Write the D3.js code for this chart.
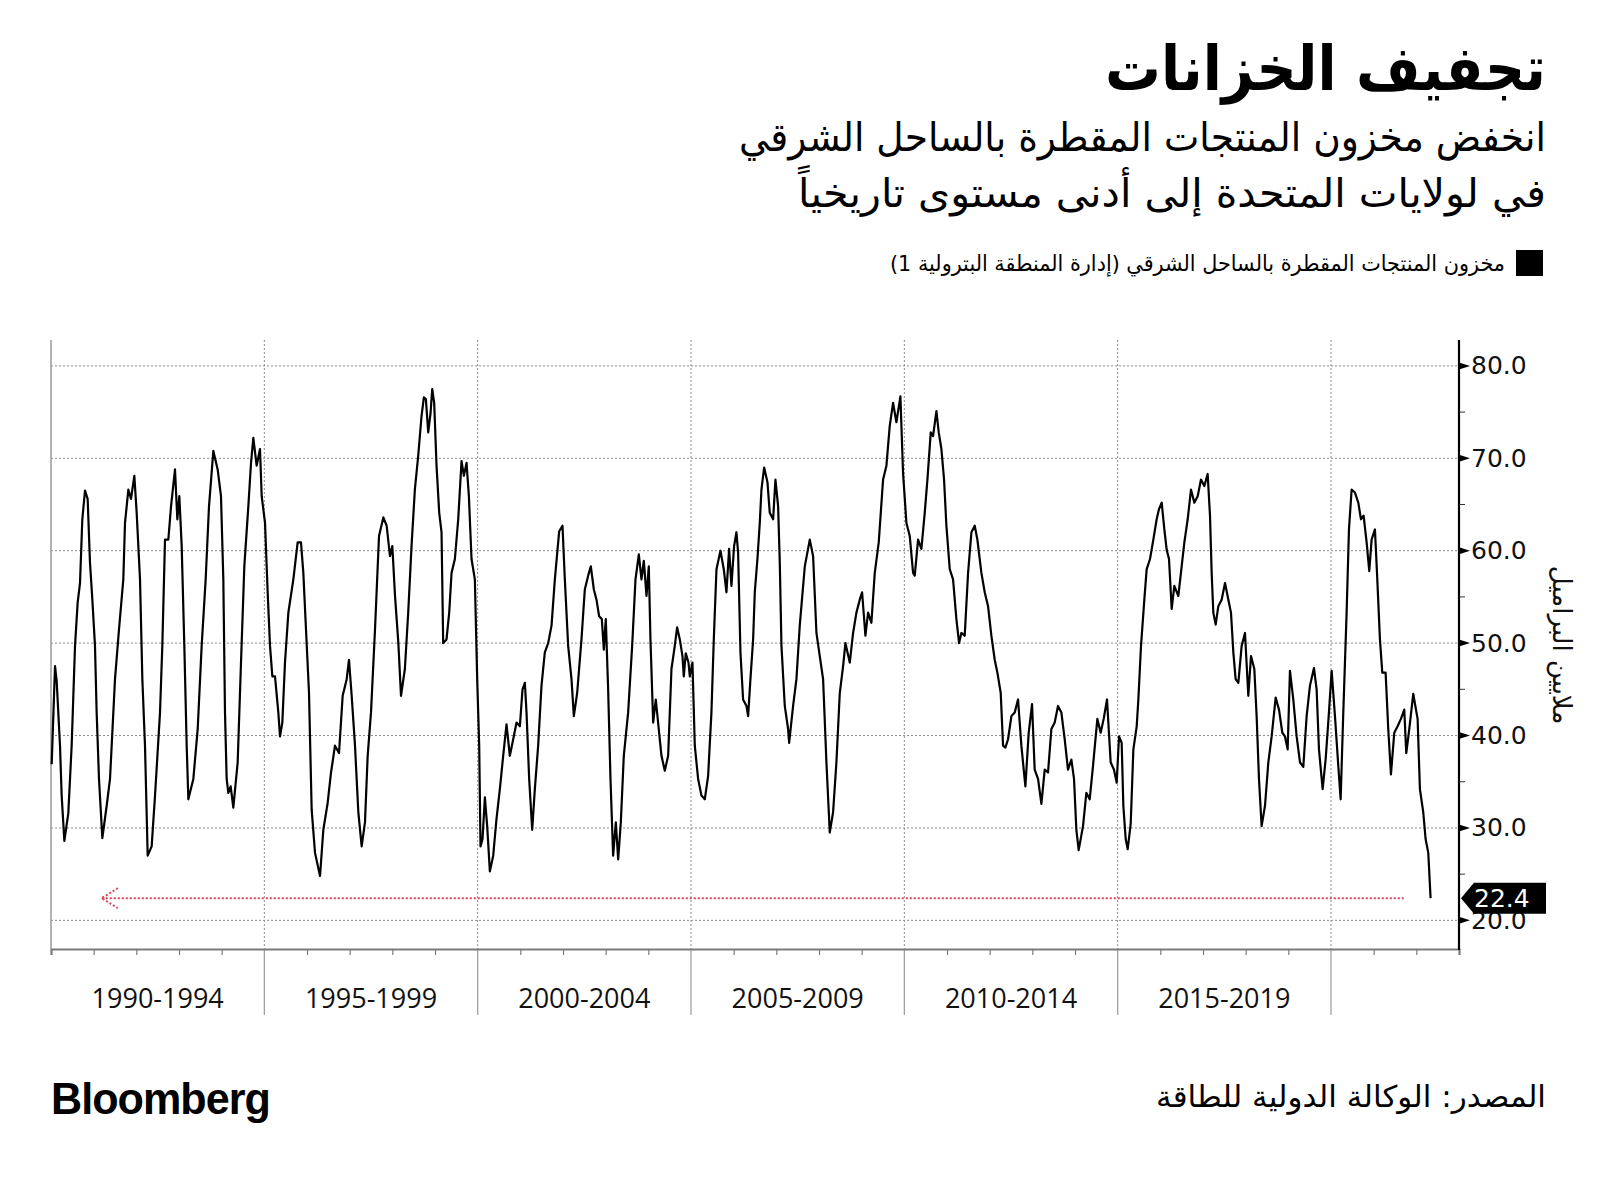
<!DOCTYPE html>
<html lang="ar">
<head>
<meta charset="utf-8">
<script src="https://cdn.jsdelivr.net/npm/d3@7"></script>
<style>
  html, body { margin: 0; padding: 0; background: #ffffff; }
  svg { display: block; }
</style>
</head>
<body>
<div id="chart"></div>
<script>
// ---------------- DATA ----------------
const titleText = "تجفيف الخزانات";
const subtitleLines = ["انخفض مخزون المنتجات المقطرة بالساحل الشرقي", "في لولايات المتحدة إلى أدنى مستوى تاريخياً"];
const legendLabel = "مخزون المنتجات المقطرة بالساحل الشرقي (إدارة المنطقة البترولية 1)";
const yAxisTitle = "ملايين البراميل";
const sourceText = "المصدر: الوكالة الدولية للطاقة";
const brandText = "Bloomberg";

const periodLabels = ["1990-1994", "1995-1999", "2000-2004", "2005-2009", "2010-2014", "2015-2019"];
const periodStarts = [1990, 1995, 2000, 2005, 2010, 2015];
const yTickValues = [20, 30, 40, 50, 60, 70, 80];
const yMinorTickValues = [25, 35, 45, 55, 65, 75];

// decimal year of each observation
const dates = [
1990.016,1990.094,1990.133,1990.211,1990.25,1990.313,1990.406,1990.484,1990.563,1990.625,1990.68,1990.734,1990.797,1990.859,1990.914,1990.969,
1991.031,1991.07,1991.125,1991.203,1991.305,1991.383,1991.5,1991.594,1991.695,1991.734,1991.813,1991.875,1991.953,
1992.008,1992.086,1992.141,1992.203,1992.266,1992.359,1992.438,1992.555,1992.609,1992.672,1992.75,1992.813,1992.906,1992.961,
1993.008,1993.063,1993.125,1993.18,1993.219,1993.336,1993.438,1993.531,1993.625,1993.703,1993.805,1993.906,1993.984,
1994.039,1994.078,1994.117,1994.156,1994.211,1994.273,1994.375,1994.453,1994.531,1994.625,1994.688,1994.742,1994.82,1994.898,1994.938,
1995.016,1995.078,1995.133,1995.188,1995.25,1995.328,1995.367,1995.422,1995.484,1995.563,1995.68,1995.781,1995.859,1995.914,1995.969,
1996.047,1996.109,1996.188,1996.305,1996.383,1996.484,1996.563,1996.656,1996.75,1996.836,1996.93,1996.984,
1997.047,1997.125,1997.203,1997.281,1997.359,1997.422,1997.5,1997.594,1997.688,1997.789,1997.867,1997.945,
1998.0,1998.063,1998.141,1998.203,1998.294,1998.372,1998.45,1998.528,1998.607,1998.685,1998.739,1998.786,1998.841,1998.896,1998.935,1998.981,
1999.036,1999.099,1999.153,1999.192,1999.27,1999.333,1999.388,1999.466,1999.544,1999.622,1999.677,1999.739,1999.794,1999.856,1999.934,1999.989,
2000.036,2000.067,2000.114,2000.169,2000.223,2000.286,2000.364,2000.442,2000.52,2000.598,2000.676,2000.754,2000.833,2000.911,2000.989,
2001.051,2001.106,2001.145,2001.207,2001.278,2001.34,2001.418,2001.496,2001.574,2001.653,2001.731,2001.809,2001.91,2001.988,
2002.043,2002.121,2002.199,2002.254,2002.332,2002.433,2002.511,2002.59,2002.652,2002.723,2002.785,2002.847,2002.91,2002.957,
2003.003,2003.058,2003.113,2003.175,2003.238,2003.293,2003.355,2003.425,2003.527,2003.621,2003.699,2003.777,2003.839,2003.894,2003.957,
2004.011,2004.05,2004.113,2004.175,2004.253,2004.308,2004.386,2004.464,2004.542,2004.62,2004.675,2004.738,2004.8,2004.831,2004.878,2004.941,2004.972,
2005.034,2005.089,2005.167,2005.245,2005.323,2005.401,2005.479,2005.534,2005.597,2005.69,2005.768,2005.831,2005.893,2005.948,
2006.01,2006.065,2006.104,2006.159,2006.221,2006.3,2006.339,2006.393,2006.456,2006.495,2006.557,2006.612,2006.651,2006.714,2006.792,2006.846,2006.925,2006.979,
2007.042,2007.081,2007.12,2007.198,2007.276,2007.3,2007.393,2007.471,2007.549,2007.667,2007.784,2007.862,2007.94,
2008.018,2008.096,2008.174,2008.252,2008.33,2008.408,2008.487,2008.565,2008.619,2008.721,2008.799,2008.877,2008.955,
2009.01,2009.088,2009.15,2009.228,2009.307,2009.4,2009.502,2009.58,2009.658,2009.736,2009.814,2009.908,2009.97,
2010.049,2010.127,2010.205,2010.244,2010.322,2010.4,2010.478,2010.541,2010.619,2010.673,2010.752,2010.806,2010.869,2010.931,2010.986,
2011.064,2011.142,2011.22,2011.283,2011.337,2011.415,2011.494,2011.572,2011.65,2011.712,2011.806,2011.884,2011.962,
2012.04,2012.118,2012.181,2012.259,2012.314,2012.368,2012.431,2012.509,2012.587,2012.665,2012.743,2012.837,2012.915,2012.993,
2013.055,2013.134,2013.212,2013.29,2013.368,2013.446,2013.524,2013.602,2013.68,2013.758,2013.836,2013.915,2013.977,
2014.032,2014.086,2014.188,2014.266,2014.344,2014.422,2014.524,2014.602,2014.672,2014.75,2014.836,2014.914,2014.977,
2015.032,2015.094,2015.133,2015.188,2015.235,2015.305,2015.368,2015.446,2015.485,2015.547,2015.625,2015.68,2015.758,2015.836,2015.914,2015.969,
2016.032,2016.094,2016.149,2016.203,2016.266,2016.328,2016.422,2016.5,2016.563,2016.641,2016.719,2016.797,2016.875,2016.953,
2017.031,2017.109,2017.164,2017.203,2017.242,2017.297,2017.359,2017.437,2017.516,2017.594,2017.656,2017.711,2017.765,2017.828,2017.906,2017.984,
2018.062,2018.125,2018.203,2018.257,2018.312,2018.374,2018.453,2018.531,2018.609,2018.703,2018.781,2018.859,2018.921,2018.984,
2019.038,2019.116,2019.195,2019.273,2019.351,2019.429,2019.507,2019.601,2019.663,2019.718,2019.804,2019.874,2019.952,
2020.015,2020.093,2020.171,2020.226,2020.288,2020.366,2020.421,2020.483,2020.561,2020.64,2020.702,2020.764,2020.835,2020.897,2020.952,
2021.03,2021.085,2021.147,2021.202,2021.28,2021.342,2021.405,2021.483,2021.561,2021.639,2021.717,2021.764,2021.834,2021.928,
2022.03,2022.084,2022.162,2022.217,2022.28,2022.334
];

// East Coast distillate stocks, million barrels
const stocks = [
36.9,47.5,45.9,38.9,33.5,28.6,31.6,38.9,49.7,54.4,56.5,63.4,66.5,65.6,58.7,54.7,
49.7,42.5,35.3,28.9,32.4,35.3,46.1,51.5,56.9,63,66.6,65.6,68.1,
64.1,56.9,46.1,38.9,27.0,28.0,33.5,42.5,49.7,61.2,61.2,64.8,68.8,63.4,
65.9,60.5,49.7,38.9,33.1,35.3,40.7,49.7,56.9,64.8,70.8,68.8,65.9,
56.9,42.5,35.3,33.8,34.5,32.2,37.1,47.9,58.3,64.8,69.5,72.2,69.2,71,65.9,
63,55.5,49.7,46.4,46.4,42.5,39.9,41.4,47.9,53.3,56.9,60.9,60.9,57.6,52.2,
44.6,32,27.3,24.8,29.8,32.7,36,38.9,38.1,44.3,46.1,48.2,
44.3,38.9,31.7,28,30.6,37.8,42.5,51.5,61.6,63.6,62.7,59.4,
60.5,55.1,50,44.3,47.2,53.3,60.5,66.6,70.3,74.6,76.6,76.4,72.8,74.9,77.5,76,
69.2,64.1,62,50,50.4,53.3,57.6,59.1,63.4,69.7,68.1,69.5,65.9,59.1,56.9,46.1,
38.9,28,28.8,33.3,30.2,25.3,27,31,34.2,37.8,41.2,37.8,39.6,41.4,41,
45,45.7,42.5,35.3,29.8,34.2,38.9,45.4,49,50,51.9,56.9,62.1,62.7,
56.9,49.7,46.1,42.1,44.6,50.4,55.8,57.3,58.3,55.8,54.7,52.9,52.6,49.3,
52.6,45,35.3,27,30.6,26.6,30.6,37.8,42.5,49.7,56.9,59.6,56.9,58.9,55.1,
58.3,50.4,41.4,43.9,40.3,37.8,36.2,37.8,47.2,49.7,51.7,50.4,48.6,46.4,48.9,47.9,46.4,
47.9,38.9,35.3,33.5,33.1,35.6,42.5,50.4,58,60,58,55.5,60.2,56.2,
60.5,62,59.8,49,43.9,43.2,42.1,46.1,50.4,55.5,59.1,63,66.6,69,67.4,64.1,63.4,67.7,
64.8,58.7,49.7,43.2,40.7,39.2,43.2,46.1,51.9,58.3,61.2,59.4,51.1,
48.6,46.1,37.1,29.5,31.7,37.1,44.6,47.5,50,47.9,51.1,53.3,54.7,
55.5,50.8,53.3,52.2,57.6,60.9,67.7,69.2,73.5,76,73.9,76.7,68.4,
63,61.6,57.6,57.3,61.2,60.2,64.1,67.7,72.8,72.4,75.1,72.8,71,67.7,62.7,
58,56.9,52.6,50,51.1,50.8,57.6,62,62.7,61.2,57.6,55.5,54,
50.8,48.2,46.8,44.6,38.9,38.7,39.6,42.1,42.5,43.9,38.9,34.5,40.3,43.4,
36.3,35.3,32.6,36.3,36,40.7,41.4,43.2,42.5,39.6,36.3,37.4,35.3,
29.8,27.6,30.2,33.8,33.1,36.7,41.8,40.3,41.8,43.9,37.1,36.3,34.9,
39.9,39.2,32.4,28.8,27.7,30.4,38.5,41,43.9,49.7,54.7,58,59.1,61.2,63.4,64.5,
65.2,62.3,60.1,59.1,53.7,56.2,55.1,58.3,60.9,63.4,66.6,65.2,65.9,67.7,
67,68.3,63.8,57.6,53.3,52,54,54.7,56.5,54.7,53.3,49,46.1,45.7,49.7,51.1,
44.3,48.6,47.2,42.1,35.3,30.2,32.4,37.1,39.9,44.1,42.8,40.3,39.9,38.5,
47,43.9,39.9,37.1,36.6,42.1,45.4,47.3,45,38.5,34.2,37.4,42.5,
47,42.1,36.7,33.1,42.5,53.3,62.3,66.6,66.3,65.2,63.4,63.8,60.9,57.8,61.2,
62.3,56.9,50.4,46.8,46.8,40.7,35.8,40.3,41,41.8,42.8,38.1,40.7,44.5,
41.8,34.2,31.7,28.8,27.3,22.4
];

const latestValue = 22.4;
const arrowStartYear = 1991.19;
const arrowEndYear = 2021.75;

// ---------------- DRAW ----------------
const W = 1600, H = 1178;
const AR = "'DejaVu Sans', sans-serif";

const svg = d3.select("#chart").append("svg")
  .attr("width", W).attr("height", H)
  .attr("viewBox", `0 0 ${W} ${H}`);

svg.append("rect").attr("width", W).attr("height", H).attr("fill", "#fff");

const plot = { left: 51, right: 1459, top: 340, bottom: 949 };

const x = d3.scaleLinear().domain([1990, 2023]).range([plot.left, plot.right]);
const y = d3.scaleLinear().domain([16.9, 82.8]).range([plot.bottom, plot.top]);

// ---- header ----
// right-aligned Arabic text: with direction rtl, "start" is the right edge
function rtlText(txt, xr, yb, size, weight, len) {
  const t = svg.append("text")
    .attr("x", xr).attr("y", yb)
    .attr("direction", "rtl")
    .attr("text-anchor", "start")
    .attr("font-family", AR)
    .attr("font-size", size)
    .attr("font-weight", weight)
    .attr("fill", "#000")
    .text(txt);
  if (len) t.attr("textLength", len).attr("lengthAdjust", "spacingAndGlyphs");
  return t;
}

rtlText(titleText, 1546, 90, 62, 700, 441);
rtlText(subtitleLines[0], 1546, 151, 40, 400, 807);
rtlText(subtitleLines[1], 1546, 207, 40, 400, 748);

svg.append("rect").attr("x", 1516).attr("y", 250).attr("width", 27).attr("height", 26).attr("fill", "#000");
rtlText(legendLabel, 1505, 271, 22, 400, 615);

// ---- gridlines ----
const grid = svg.append("g");
grid.selectAll("line.h").data(yTickValues).join("line")
  .attr("x1", plot.left).attr("x2", plot.right)
  .attr("y1", d => y(d)).attr("y2", d => y(d))
  .attr("stroke", "#8c8c8c").attr("stroke-width", 1).attr("stroke-dasharray", "2,2");

const seps = periodStarts.slice(1).concat([2020]);
grid.selectAll("line.v").data(seps).join("line")
  .attr("x1", d => x(d)).attr("x2", d => x(d))
  .attr("y1", plot.top).attr("y2", plot.bottom)
  .attr("stroke", "#8c8c8c").attr("stroke-width", 1).attr("stroke-dasharray", "2,2");

// solid separators below axis
svg.append("g").selectAll("line").data(seps).join("line")
  .attr("x1", d => x(d)).attr("x2", d => x(d))
  .attr("y1", plot.bottom).attr("y2", 1015)
  .attr("stroke", "#9a9a9a").attr("stroke-width", 1.2);

// ---- axes frame ----
svg.append("line").attr("x1", plot.left).attr("x2", plot.left)
  .attr("y1", plot.top).attr("y2", plot.bottom)
  .attr("stroke", "#9a9a9a").attr("stroke-width", 1.5);

// bottom axis with yearly ticks
const yearTicks = d3.range(1991, 2023).filter(v => v % 5 !== 0);
const xAxis = d3.axisBottom(x).tickValues(yearTicks).tickSize(6).tickFormat("");
const gx = svg.append("g").attr("transform", `translate(0,${plot.bottom})`).call(xAxis);
gx.select(".domain").attr("stroke", "#7a7a7a").attr("stroke-width", 2.2);
gx.selectAll(".tick line").attr("stroke", "#7a7a7a").attr("stroke-width", 1.2);

// period labels
svg.append("g").selectAll("text").data(periodLabels).join("text")
  .attr("x", (d, i) => (x(periodStarts[i]) + x(periodStarts[i] + 5)) / 2)
  .attr("y", 1008)
  .attr("text-anchor", "middle")
  .attr("font-family", "'Open Sans', sans-serif")
  .attr("font-size", 27)
  .attr("fill", "#111")
  .text(d => d);

// right axis
const yAxis = d3.axisRight(y).tickValues(yTickValues).tickSize(0).tickPadding(12)
  .tickFormat(d3.format(".1f"));
const gy = svg.append("g").attr("transform", `translate(${plot.right},0)`).call(yAxis);
gy.select(".domain").remove();
gy.selectAll(".tick text")
  .attr("font-family", "'DejaVu Sans', sans-serif")
  .attr("font-size", 25)
  .attr("fill", "#111");

svg.append("line").attr("x1", plot.right).attr("x2", plot.right)
  .attr("y1", plot.top).attr("y2", plot.bottom + 1)
  .attr("stroke", "#000").attr("stroke-width", 2.2);

svg.append("g").selectAll("path").data(yTickValues).join("path")
  .attr("d", d => `M${plot.right},${y(d) - 3.5}L${plot.right + 11},${y(d)}L${plot.right},${y(d) + 3.5}Z`)
  .attr("fill", "#000");
svg.append("g").selectAll("line").data(yMinorTickValues).join("line")
  .attr("x1", plot.right).attr("x2", plot.right + 6)
  .attr("y1", d => y(d)).attr("y2", d => y(d))
  .attr("stroke", "#333").attr("stroke-width", 1);

// y axis title (rotated)
svg.append("text")
  .attr("transform", `translate(1553,645) rotate(90)`)
  .attr("text-anchor", "middle")
  .attr("direction", "rtl")
  .attr("font-family", AR)
  .attr("font-size", 26)
  .attr("fill", "#111")
  .text(yAxisTitle);

// ---- data line ----
const series = dates.map((d, i) => ({ t: d, v: stocks[i] }));
const line = d3.line().x(d => x(d.t)).y(d => y(d.v)).curve(d3.curveLinear);
svg.append("path").datum(series)
  .attr("d", line)
  .attr("fill", "none")
  .attr("stroke", "#000")
  .attr("stroke-width", 2.2)
  .attr("stroke-linejoin", "round");

// ---- red dotted arrow at latest level ----
const red = "#e2405b";
const ay = y(latestValue);
const ax0 = x(arrowStartYear), ax1 = x(arrowEndYear);
const arrow = svg.append("g").attr("stroke", red).attr("stroke-width", 2)
  .attr("stroke-dasharray", "2,2").attr("fill", "none");
arrow.append("line").attr("x1", ax0).attr("x2", ax1).attr("y1", ay).attr("y2", ay);
arrow.append("path").attr("d", `M${ax0 + 16},${ay - 10}L${ax0},${ay}L${ax0 + 16},${ay + 10}`);

// ---- latest value label (covers part of the 20.0 tick label, as in the original) ----
svg.append("path")
  .attr("d", `M${plot.right + 2},${ay}L${plot.right + 15},${ay - 15.5}L1546,${ay - 15.5}L1546,${ay + 15.5}L${plot.right + 15},${ay + 15.5}Z`)
  .attr("fill", "#000");
svg.append("text")
  .attr("x", plot.right + 15).attr("y", ay)
  .attr("dominant-baseline", "central")
  .attr("font-family", "'DejaVu Sans', sans-serif")
  .attr("font-size", 25)
  .attr("fill", "#fff")
  .text(latestValue.toFixed(1));

// ---- footer ----
svg.append("text")
  .attr("x", 51).attr("y", 1114)
  .attr("font-family", "'Liberation Sans', Arial, sans-serif")
  .attr("font-weight", 700)
  .attr("font-size", 45)
  .attr("textLength", 219).attr("lengthAdjust", "spacingAndGlyphs")
  .attr("letter-spacing", -1)
  .attr("fill", "#000")
  .text(brandText);

rtlText(sourceText, 1546, 1107, 30, 400, 390);
</script>
</body>
</html>
